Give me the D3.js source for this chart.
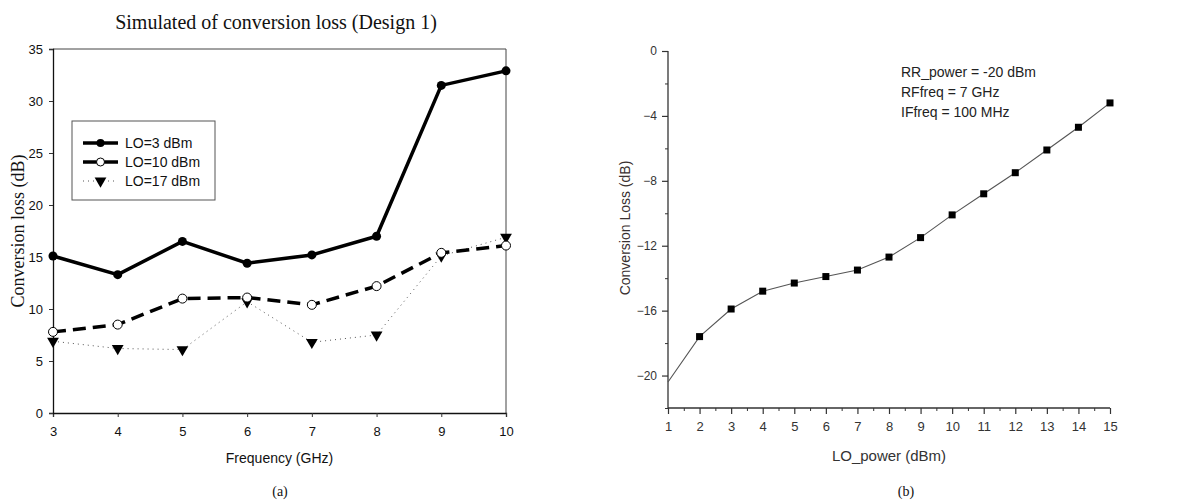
<!DOCTYPE html>
<html>
<head>
<meta charset="utf-8">
<script src="https://cdn.jsdelivr.net/npm/d3@7"></script>
<style>
  body { margin: 0; background: #fff; }
  .sans { font-family: Arial, "Liberation Sans", sans-serif; }
  .serif { font-family: "Times New Roman", "Liberation Serif", serif; }
</style>
</head>
<body>
<svg id="chart" width="1177" height="501"></svg>
<script>
// ---- data, chart (a)
var freqs = [3, 4, 5, 6, 7, 8, 9, 10];
var lo3 = [15.1, 13.3, 16.5, 14.4, 15.2, 17.0, 31.5, 32.9];
var lo10 = [7.8, 8.5, 11.0, 11.1, 10.4, 12.2, 15.4, 16.1];
var lo17 = [6.9, 6.2, 6.1, 10.7, 6.8, 7.5, 15.1, 16.9];
var seriesNames = ['LO=3 dBm', 'LO=10 dBm', 'LO=17 dBm'];
var yTicksA = [0, 5, 10, 15, 20, 25, 30, 35];

// ---- data, chart (b)
var loPower = [1, 2, 3, 4, 5, 6, 7, 8, 9, 10, 11, 12, 13, 14, 15];
var convLoss = [-20.4, -17.6, -15.9, -14.8, -14.3, -13.9, -13.5, -12.7, -11.5, -10.1, -8.8, -7.5, -6.1, -4.7, -3.2];
var yTicksB = [0, -4, -8, -12, -16, -20];
var notes = ['RR_power = -20 dBm', 'RFfreq = 7 GHz', 'IFfreq = 100 MHz'];

var svg = d3.select('#chart');

/* ---------------- chart (a) ---------------- */
var a = { left: 53, right: 506, top: 49, bottom: 413 };

var xA = d3.scaleLinear().domain([3, 10]).range([a.left, a.right]);
var yA = d3.scaleLinear().domain([0, 35]).range([a.bottom, a.top]);

var gA = svg.append('g');

// frame top / right
gA.append('line').attr('x1', a.left).attr('x2', a.right).attr('y1', a.top).attr('y2', a.top)
    .attr('stroke', '#444').attr('stroke-width', 1);
gA.append('line').attr('x1', a.right).attr('x2', a.right).attr('y1', a.top).attr('y2', a.bottom)
    .attr('stroke', '#444').attr('stroke-width', 1);

var xAxisA = gA.append('g')
    .attr('class', 'sans')
    .attr('transform', 'translate(0,' + a.bottom + ')')
    .call(d3.axisBottom(xA).tickValues(freqs).tickSize(4).tickPadding(10).tickFormat(d3.format('d')));
var yAxisA = gA.append('g')
    .attr('class', 'sans')
    .attr('transform', 'translate(' + a.left + ',0)')
    .call(d3.axisLeft(yA).tickValues(yTicksA).tickSize(4).tickPadding(6));

[xAxisA, yAxisA].forEach(function(ax) {
    ax.select('.domain').attr('stroke', '#111').attr('stroke-width', 1.3);
    ax.selectAll('.tick line').attr('stroke', '#333');
    ax.selectAll('.tick text').attr('font-size', 13).attr('fill', '#111')
        .attr('font-family', 'Arial, "Liberation Sans", sans-serif');
});

var lineA = function(vals) {
    return d3.line()
        .x(function(d, i) { return xA(freqs[i]); })
        .y(function(d) { return yA(d); })(vals);
};

var tri = d3.symbol().type(d3.symbolTriangle).size(60);

// LO=17 dotted
gA.append('path').attr('d', lineA(lo17)).attr('fill', 'none')
    .attr('stroke', '#555').attr('stroke-width', 1).attr('stroke-dasharray', '1,4');
// LO=10 dashed
gA.append('path').attr('d', lineA(lo10)).attr('fill', 'none')
    .attr('stroke', '#000').attr('stroke-width', 3.5).attr('stroke-dasharray', '13,7');
// LO=3 solid
gA.append('path').attr('d', lineA(lo3)).attr('fill', 'none')
    .attr('stroke', '#000').attr('stroke-width', 3.5);

gA.selectAll('.m17').data(lo17).enter().append('path')
    .attr('d', tri)
    .attr('transform', function(d, i) { return 'translate(' + xA(freqs[i]) + ',' + yA(d) + ') rotate(180)'; })
    .attr('fill', '#000');
gA.selectAll('.m10').data(lo10).enter().append('circle')
    .attr('cx', function(d, i) { return xA(freqs[i]); })
    .attr('cy', function(d) { return yA(d); })
    .attr('r', 4.5).attr('fill', '#fff').attr('stroke', '#000').attr('stroke-width', 1);
gA.selectAll('.m3').data(lo3).enter().append('circle')
    .attr('cx', function(d, i) { return xA(freqs[i]); })
    .attr('cy', function(d) { return yA(d); })
    .attr('r', 4.5).attr('fill', '#000');

// legend
var leg = gA.append('g').attr('transform', 'translate(72,121)');
leg.append('rect').attr('width', 143).attr('height', 79)
    .attr('fill', '#fff').attr('stroke', '#555').attr('stroke-width', 1);
var legRows = [22, 41, 60];
seriesNames.forEach(function(name, i) {
    var row = leg.append('g').attr('transform', 'translate(0,' + legRows[i] + ')');
    var ln = row.append('line').attr('x1', 11).attr('x2', 46).attr('y1', 0).attr('y2', 0);
    if (i === 0) {
        ln.attr('stroke', '#000').attr('stroke-width', 3.5);
        row.append('circle').attr('cx', 28.5).attr('cy', 0).attr('r', 4).attr('fill', '#000');
    } else if (i === 1) {
        ln.attr('stroke', '#000').attr('stroke-width', 3.5);
        row.append('circle').attr('cx', 28.5).attr('cy', 0).attr('r', 4)
            .attr('fill', '#fff').attr('stroke', '#000');
    } else {
        ln.attr('stroke', '#555').attr('stroke-width', 1).attr('stroke-dasharray', '1,4');
        row.append('path').attr('d', tri).attr('transform', 'translate(28.5,0) rotate(180)').attr('fill', '#000');
    }
    row.append('text').attr('class', 'sans').attr('x', 53).attr('y', 5)
        .attr('font-size', 14).attr('fill', '#111').text(name);
});

// texts
gA.append('text').attr('class', 'serif').attr('x', 276).attr('y', 29)
    .attr('text-anchor', 'middle').attr('font-size', 20).attr('fill', '#111')
    .text('Simulated of conversion loss (Design 1)');
gA.append('text').attr('class', 'serif')
    .attr('transform', 'translate(24,' + (a.top + a.bottom) / 2 + ') rotate(-90)')
    .attr('text-anchor', 'middle').attr('font-size', 18).attr('fill', '#111')
    .text('Conversion loss (dB)');
gA.append('text').attr('class', 'sans').attr('x', (a.left + a.right) / 2).attr('y', 463)
    .attr('text-anchor', 'middle').attr('font-size', 14).attr('fill', '#111')
    .text('Frequency (GHz)');
gA.append('text').attr('class', 'serif').attr('x', 280).attr('y', 496)
    .attr('text-anchor', 'middle').attr('font-size', 14).attr('fill', '#111').text('(a)');

/* ---------------- chart (b) ---------------- */
var b = { left: 668, right: 1110, top: 51, bottom: 408 };

var xB = d3.scaleLinear().domain([1, 15]).range([b.left, b.right]);
var yB = d3.scaleLinear().domain([-22, 0]).range([b.bottom, b.top]);

var gB = svg.append('g');
var ink = '#333';

// minor ticks
gB.append('g').attr('transform', 'translate(0,' + b.bottom + ')')
    .call(d3.axisBottom(xB).tickValues(d3.range(1.5, 15, 1)).tickSize(3).tickFormat(''))
    .call(function(g) { g.select('.domain').remove(); g.selectAll('line').attr('stroke', ink); });
gB.append('g').attr('transform', 'translate(' + b.left + ',0)')
    .call(d3.axisLeft(yB).tickValues([-2, -6, -10, -14, -18, -22]).tickSize(3).tickFormat(''))
    .call(function(g) { g.select('.domain').remove(); g.selectAll('line').attr('stroke', ink); });

var xAxisB = gB.append('g')
    .attr('transform', 'translate(0,' + b.bottom + ')')
    .call(d3.axisBottom(xB).tickValues(loPower).tickSize(6).tickPadding(8).tickFormat(d3.format('d')));
var yAxisB = gB.append('g')
    .attr('transform', 'translate(' + b.left + ',0)')
    .call(d3.axisLeft(yB).tickValues(yTicksB).tickSize(6).tickPadding(5));

[xAxisB, yAxisB].forEach(function(ax) {
    ax.select('.domain').attr('stroke', ink).attr('stroke-width', 1.3);
    ax.selectAll('.tick line').attr('stroke', ink).attr('stroke-width', 1.2);
    ax.selectAll('.tick text').attr('font-size', 12).attr('fill', ink)
        .attr('font-family', 'Arial, "Liberation Sans", sans-serif');
});
xAxisB.selectAll('.tick text').attr('font-size', 13);
xAxisB.select('.domain').attr('d', 'M' + b.left + ',0H' + b.right);
yAxisB.select('.domain').attr('d', 'M0,' + b.bottom + 'V' + b.top);

var lineB = d3.line()
    .x(function(d, i) { return xB(loPower[i]); })
    .y(function(d) { return yB(d); });

gB.append('path').attr('d', lineB(convLoss)).attr('fill', 'none')
    .attr('stroke', '#555').attr('stroke-width', 1.1);

gB.selectAll('.sq').data(convLoss.slice(1)).enter().append('rect')
    .attr('x', function(d, i) { return xB(loPower[i + 1]) - 3.5; })
    .attr('y', function(d) { return yB(d) - 3.5; })
    .attr('width', 7).attr('height', 7).attr('fill', '#000');

notes.forEach(function(t, i) {
    gB.append('text').attr('class', 'sans').attr('x', 901).attr('y', 77 + i * 20)
        .attr('font-size', 14).attr('fill', '#222').text(t);
});

gB.append('text').attr('class', 'sans')
    .attr('transform', 'translate(630,' + 228 + ') rotate(-90)')
    .attr('text-anchor', 'middle').attr('font-size', 14).attr('fill', '#3a3030')
    .text('Conversion Loss (dB)');
gB.append('text').attr('class', 'sans').attr('x', 889).attr('y', 461)
    .attr('text-anchor', 'middle').attr('font-size', 15).attr('fill', ink)
    .text('LO_power (dBm)');
gB.append('text').attr('class', 'serif').attr('x', 906).attr('y', 496)
    .attr('text-anchor', 'middle').attr('font-size', 14).attr('fill', '#111').text('(b)');
</script>
</body>
</html>
